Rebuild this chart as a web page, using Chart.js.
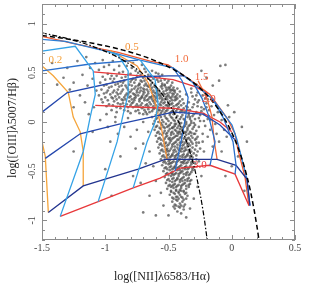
<!DOCTYPE html>
<html><head><meta charset="utf-8">
<script src="https://cdn.jsdelivr.net/npm/chart.js@4.4.0/dist/chart.umd.min.js"></script>
<style>html,body{margin:0;padding:0;background:#fff;}canvas{display:block;}</style>
</head><body>
<canvas id="c" width="309" height="295"></canvas>
<script>
// ---- axis ticks ----
const xTickValues = [-1.5, -1, -0.5, 0, 0.5];
const xTickLabels = ['-1.5', '-1', '-0.5', '0', '0.5'];
const yTickValues = [-1, -0.5, 0, 0.5, 1];
const yTickLabels = ['-1', '-0.5', '0', '0.5', '1'];

// ---- demarcation curves ----
const kewleyX = [-1.5,-1.3,-1.1,-0.9,-0.8,-0.7,-0.6,-0.5,-0.4,-0.3,-0.25,-0.2,-0.15,-0.1,-0.05,0,0.05,0.1,0.15,0.2,0.215];
const kewleyY = [0.880,0.845,0.801,0.745,0.710,0.669,0.620,0.561,0.489,0.398,0.343,0.280,0.206,0.120,0.017,-0.108,-0.262,-0.459,-0.716,-1.069,-1.2];
const kauffX = [-1.5,-1.3,-1.1,-0.9,-0.8,-0.7,-0.6,-0.5,-0.45,-0.4,-0.35,-0.3,-0.25,-0.22,-0.194];
const kauffY = [0.906,0.848,0.770,0.658,0.582,0.487,0.362,0.191,0.080,-0.056,-0.225,-0.443,-0.733,-0.959,-1.2];

// ---- model grid lines (x,y pairs) ----
const envRed   = [-1.50,0.87, -1.221,0.79, -0.906,0.71, -0.645,0.62, -0.503,0.58, -0.329,0.43, -0.172,0.28, -0.037,0.04, 0.026,-0.12, 0.049,-0.28, 0.105,-0.56, 0.136,-0.85];
const envBlue  = [-1.50,0.84, -1.316,0.82, -0.898,0.69, -0.724,0.63, -0.464,0.55, -0.306,0.40, -0.148,0.23, 0.002,-0.03, 0.041,-0.18, 0.065,-0.30, 0.120,-0.58, 0.144,-0.85];
const redU1    = [-1.095,0.51, -0.724,0.47, -0.464,0.43, -0.29,0.36, -0.19,0.29];
const redU2    = [-1.079,0.17, -0.724,0.15, -0.464,0.14, -0.227,0.09, -0.093,0.0, 0.0,-0.10];
const redU3    = [-1.356,-0.96, -1.056,-0.81, -0.779,-0.67, -0.566,-0.57, -0.408,-0.47, -0.172,-0.44, 0.026,-0.53, 0.136,-0.85];
const blueU2   = [-1.50,0.52, -1.119,0.59, -0.740,0.63];
const blueU3   = [-1.50,0.10, -1.300,0.30, -0.724,0.46, -0.50,0.47, -0.38,0.47];
const blueU4   = [-1.474,-0.37, -1.198,-0.12, -0.882,-0.02, -0.566,0.07, -0.464,0.10, -0.227,0.08, -0.093,-0.03, 0.026,-0.18];
const blueU5   = [-1.450,-0.92, -1.174,-0.65, -1.000,-0.58, -0.740,-0.48, -0.527,-0.38, -0.116,-0.38, 0.034,-0.44, 0.120,-0.58, 0.144,-0.85];
const blueZa   = [-1.50,0.72, -1.237,0.77, -1.095,0.52, -1.079,0.28, -1.119,0.05, -1.174,-0.30, -1.356,-0.96];
const blueZb   = [-0.985,0.72, -0.898,0.68, -0.819,0.52, -0.819,0.28, -0.858,0.08, -0.906,-0.20, -1.056,-0.81];
const blueZc   = [-0.724,0.63, -0.606,0.43, -0.582,0.18, -0.606,0.0, -0.669,-0.20, -0.779,-0.67];
const blueZd   = [-0.464,0.55, -0.393,0.42, -0.345,0.25, -0.361,0.08, -0.401,-0.20, -0.448,-0.50];
const blueZe   = [-0.306,0.40, -0.235,0.24, -0.187,0.08, -0.132,-0.20, -0.172,-0.44];
const blueZf   = [-0.148,0.23, -0.07,0.05, 0.010,-0.20, 0.034,-0.44, 0.026,-0.53];
const orgZ01   = [-1.50,-0.20, -1.474,-0.35, -1.450,-0.92];
const orgZ02   = [-1.50,0.57, -1.411,0.47, -1.292,0.30, -1.253,0.05, -1.198,-0.10, -1.174,-0.30, -1.174,-0.65];
const orgZ05   = [-0.961,0.73, -0.748,0.57, -0.661,0.40, -0.606,0.20, -0.558,-0.05, -0.511,-0.38];
const orgZ15   = [-0.266,0.42, -0.195,0.24, -0.156,0.05, -0.140,-0.18, -0.116,-0.38];

// ---- metallicity labels ----
const zLabels = ['0.2', '0.5', '1.0', '1.5', '2.0', '3.0'];
const zLabelX = [-1.395, -0.79, -0.397, -0.239, -0.180, -0.251];
const zLabelY = [0.625, 0.76, 0.64, 0.46, 0.235, -0.44];

// ---- galaxies (x,y pairs) ----
const bandPts = [
-0.93,0.53,-0.86,0.51,-0.79,0.55,-0.74,0.50,-0.69,0.54,-0.63,0.52,-0.58,0.49,-0.83,0.57,-0.71,0.58,-0.98,0.49,
-1.02,0.46,-0.96,0.44,-0.91,0.47,-0.87,0.45,-0.82,0.48,-0.78,0.44,-0.75,0.47,-0.70,0.45,-0.66,0.48,-0.62,0.44,-0.57,0.46,-0.53,0.43,-0.88,0.41,-0.72,0.42,
-1.04,0.40,-0.99,0.38,-0.94,0.41,-0.90,0.39,-0.85,0.42,-0.81,0.38,-0.77,0.40,-0.74,0.37,-0.71,0.41,-0.68,0.39,-0.64,0.42,-0.61,0.38,-0.58,0.41,-0.55,0.39,-0.51,0.40,-0.48,0.37,-0.79,0.43,-0.66,0.36,
-1.03,0.33,-0.97,0.35,-0.93,0.32,-0.89,0.36,-0.86,0.33,-0.83,0.35,-0.80,0.31,-0.77,0.34,-0.75,0.32,-0.72,0.35,-0.70,0.31,-0.67,0.33,-0.65,0.36,-0.62,0.32,-0.60,0.35,-0.57,0.31,-0.55,0.34,-0.52,0.32,-0.50,0.35,-0.47,0.33,-0.45,0.30,-0.91,0.30,-0.84,0.37,-0.69,0.37,
-1.05,0.27,-1.00,0.25,-0.96,0.28,-0.92,0.26,-0.88,0.29,-0.85,0.25,-0.82,0.28,-0.80,0.26,-0.78,0.29,-0.76,0.25,-0.74,0.27,-0.72,0.24,-0.70,0.28,-0.68,0.26,-0.66,0.29,-0.64,0.25,-0.62,0.27,-0.60,0.24,-0.58,0.28,-0.56,0.26,-0.54,0.29,-0.52,0.25,-0.50,0.27,-0.48,0.24,-0.46,0.28,-0.44,0.26,-0.87,0.23,-0.73,0.30,-0.59,0.30,
-1.02,0.20,-0.97,0.18,-0.93,0.21,-0.90,0.19,-0.86,0.22,-0.83,0.18,-0.81,0.21,-0.79,0.19,-0.77,0.22,-0.75,0.18,-0.73,0.21,-0.71,0.19,-0.69,0.22,-0.67,0.18,-0.65,0.20,-0.63,0.23,-0.61,0.19,-0.59,0.21,-0.57,0.18,-0.55,0.22,-0.53,0.20,-0.51,0.17,-0.49,0.21,-0.47,0.19,-0.45,0.22,-0.43,0.18,-0.41,0.21,-0.76,0.16,-0.62,0.16,-0.54,0.15,
-0.95,0.12,-0.88,0.14,-0.82,0.11,-0.78,0.15,-0.74,0.12,-0.71,0.14,-0.68,0.10,-0.66,0.13,-0.63,0.11,-0.61,0.14,-0.58,0.12,-0.56,0.09,-0.54,0.13,-0.52,0.11,-0.50,0.14,-0.48,0.10,-0.46,0.13,-0.44,0.11,-0.42,0.15,-0.40,0.12,-0.38,0.14,-0.70,0.08,-0.60,0.07,
-0.69,0.33,-0.66,0.23,-0.63,0.30,-0.61,0.26,-0.58,0.33,-0.57,0.24,-0.55,0.37,-0.53,0.28,-0.51,0.23,-0.49,0.30,-0.47,0.26,-0.46,0.35,-0.64,0.38,-0.67,0.27,-0.60,0.29,-0.56,0.20,-0.52,0.35,-0.50,0.19,-0.48,0.32,-0.44,0.23,-0.71,0.26,-0.74,0.34,-0.77,0.24,-0.81,0.30,-0.84,0.27,-0.86,0.19,-0.90,0.33,-0.94,0.24,-0.99,0.30
];
const bandPts2 = [
-0.95,0.47,-0.89,0.50,-0.84,0.46,-0.80,0.49,-0.76,0.52,-0.72,0.48,-0.68,0.51,-0.64,0.47,-0.60,0.50,-0.55,0.48,
-1.00,0.43,-0.93,0.44,-0.86,0.40,-0.80,0.41,-0.76,0.43,-0.73,0.39,-0.69,0.42,-0.66,0.44,-0.63,0.40,-0.59,0.43,-0.56,0.42,-0.53,0.38,-0.50,0.42,-0.47,0.40,
-1.01,0.37,-0.95,0.36,-0.92,0.38,-0.87,0.37,-0.82,0.33,-0.79,0.37,-0.76,0.36,-0.73,0.38,-0.70,0.34,-0.67,0.37,-0.63,0.35,-0.61,0.36,-0.59,0.33,-0.56,0.36,-0.53,0.37,-0.51,0.33,-0.49,0.35,-0.46,0.32,-0.43,0.34,
-1.01,0.29,-0.98,0.32,-0.94,0.30,-0.90,0.28,-0.87,0.31,-0.83,0.29,-0.79,0.33,-0.77,0.28,-0.75,0.30,-0.72,0.32,-0.69,0.30,-0.66,0.31,-0.64,0.33,-0.61,0.30,-0.59,0.32,-0.56,0.29,-0.54,0.31,-0.51,0.29,-0.49,0.33,-0.47,0.29,-0.45,0.32,-0.43,0.28,-0.41,0.31,
-1.03,0.23,-0.98,0.22,-0.95,0.25,-0.91,0.23,-0.89,0.25,-0.84,0.23,-0.81,0.25,-0.79,0.23,-0.76,0.27,-0.73,0.23,-0.71,0.25,-0.69,0.24,-0.67,0.22,-0.65,0.25,-0.63,0.26,-0.61,0.22,-0.59,0.26,-0.57,0.27,-0.55,0.24,-0.53,0.23,-0.51,0.26,-0.49,0.25,-0.47,0.22,-0.45,0.25,-0.43,0.24,-0.41,0.26,-0.39,0.23,
-0.99,0.16,-0.94,0.17,-0.91,0.15,-0.88,0.18,-0.85,0.16,-0.82,0.15,-0.80,0.17,-0.78,0.20,-0.74,0.16,-0.72,0.17,-0.70,0.15,-0.68,0.17,-0.66,0.16,-0.64,0.18,-0.62,0.21,-0.60,0.17,-0.58,0.15,-0.56,0.17,-0.54,0.19,-0.52,0.17,-0.50,0.16,-0.48,0.18,-0.46,0.16,-0.44,0.17,-0.42,0.19,-0.40,0.17,-0.38,0.19,-0.36,0.16,
-0.91,0.10,-0.85,0.12,-0.80,0.09,-0.76,0.11,-0.73,0.09,-0.69,0.12,-0.67,0.08,-0.65,0.10,-0.62,0.13,-0.59,0.10,-0.57,0.12,-0.55,0.11,-0.53,0.09,-0.51,0.12,-0.49,0.09,-0.47,0.11,-0.45,0.09,-0.43,0.13,-0.41,0.10,-0.39,0.11,-0.37,0.10,-0.35,0.12
];
const leftPts = [
-1.22,0.62,-1.15,0.66,-1.08,0.60,-1.02,0.63,-0.97,0.58,-1.12,0.55,-1.05,0.53,-1.18,0.48,-1.10,0.44,-1.01,0.56,-0.94,0.62,-0.89,0.57,-0.84,0.62,-0.78,0.60,-1.25,0.40,-1.14,0.37,-1.07,0.32,-1.20,0.27,-1.30,0.55,-1.33,0.45,-1.28,0.33,-1.16,0.20,-1.09,0.15,-1.13,0.08,-1.25,0.15,-1.38,0.38,-1.42,0.60,-0.99,0.08,-1.04,0.02,-0.92,0.05,
-1.00,-0.48,-0.70,-0.92,-0.76,-0.27,-0.80,-0.15,-0.96,-0.20,-0.92,0.00,-0.85,-0.05,-0.75,-0.08,-0.70,0.00,-0.88,-0.35,-0.78,-0.55,-1.10,-0.10,-0.68,-0.42,-0.65,-0.75,-1.25,-0.30,-0.95,-0.75,-0.60,-0.95,-0.72,-0.62,-0.90,-0.12,-0.82,0.04,-0.98,-0.05
];
const plumePts = [
-0.63,0.05,-0.60,0.03,-0.57,0.07,-0.55,0.02,-0.53,0.06,-0.51,0.03,-0.49,0.07,-0.47,0.04,-0.45,0.01,-0.43,0.06,-0.41,0.03,-0.39,0.07,-0.37,0.02,-0.35,0.05,-0.33,0.03,-0.31,0.06,-0.58,0.00,-0.46,0.08,
-0.62,-0.02,-0.59,-0.04,-0.56,-0.01,-0.54,-0.05,-0.52,-0.02,-0.50,-0.04,-0.48,-0.01,-0.46,-0.05,-0.44,-0.02,-0.42,-0.04,-0.40,-0.01,-0.38,-0.05,-0.36,-0.02,-0.34,-0.04,-0.32,-0.01,-0.29,-0.03,
-0.61,-0.08,-0.58,-0.10,-0.56,-0.07,-0.53,-0.09,-0.51,-0.11,-0.49,-0.07,-0.47,-0.10,-0.45,-0.08,-0.43,-0.11,-0.41,-0.07,-0.39,-0.09,-0.37,-0.11,-0.35,-0.08,-0.33,-0.10,-0.31,-0.07,-0.28,-0.09,
-0.60,-0.14,-0.57,-0.16,-0.55,-0.13,-0.52,-0.15,-0.50,-0.17,-0.48,-0.13,-0.46,-0.16,-0.44,-0.14,-0.42,-0.12,-0.40,-0.15,-0.38,-0.17,-0.36,-0.13,-0.34,-0.16,-0.32,-0.14,-0.30,-0.12,-0.27,-0.15,
-0.59,-0.20,-0.56,-0.22,-0.54,-0.19,-0.52,-0.21,-0.50,-0.23,-0.48,-0.19,-0.46,-0.22,-0.44,-0.20,-0.42,-0.18,-0.40,-0.21,-0.38,-0.23,-0.36,-0.19,-0.34,-0.22,-0.32,-0.20,-0.29,-0.18,-0.26,-0.21,
-0.58,-0.26,-0.55,-0.28,-0.53,-0.25,-0.51,-0.27,-0.49,-0.29,-0.47,-0.25,-0.45,-0.28,-0.43,-0.26,-0.41,-0.24,-0.39,-0.27,-0.37,-0.29,-0.35,-0.25,-0.33,-0.28,-0.31,-0.26,-0.28,-0.24,-0.25,-0.27,
-0.57,-0.32,-0.54,-0.34,-0.52,-0.31,-0.50,-0.33,-0.48,-0.35,-0.46,-0.31,-0.44,-0.34,-0.42,-0.32,-0.40,-0.30,-0.38,-0.33,-0.36,-0.35,-0.34,-0.31,-0.32,-0.34,-0.30,-0.32,-0.27,-0.30,
-0.56,-0.38,-0.53,-0.40,-0.51,-0.37,-0.49,-0.39,-0.47,-0.41,-0.45,-0.37,-0.43,-0.40,-0.41,-0.38,-0.39,-0.36,-0.37,-0.39,-0.35,-0.41,-0.33,-0.37,-0.31,-0.40,-0.28,-0.38,
-0.55,-0.44,-0.52,-0.46,-0.50,-0.43,-0.48,-0.45,-0.46,-0.47,-0.44,-0.43,-0.42,-0.46,-0.40,-0.44,-0.38,-0.42,-0.36,-0.45,-0.34,-0.47,-0.32,-0.43,-0.30,-0.46,
-0.54,-0.50,-0.51,-0.52,-0.49,-0.49,-0.47,-0.51,-0.45,-0.53,-0.43,-0.49,-0.41,-0.52,-0.39,-0.50,-0.37,-0.48,-0.35,-0.51,-0.33,-0.53,-0.31,-0.49,
-0.53,-0.56,-0.50,-0.58,-0.48,-0.55,-0.46,-0.57,-0.44,-0.59,-0.42,-0.55,-0.40,-0.58,-0.38,-0.56,-0.36,-0.54,-0.34,-0.57,-0.32,-0.59,
-0.52,-0.62,-0.49,-0.64,-0.47,-0.61,-0.45,-0.63,-0.43,-0.65,-0.41,-0.61,-0.39,-0.64,-0.37,-0.62,-0.35,-0.60,-0.33,-0.63,
-0.51,-0.68,-0.48,-0.70,-0.46,-0.67,-0.44,-0.69,-0.42,-0.71,-0.40,-0.67,-0.38,-0.70,-0.36,-0.68,-0.34,-0.66,
-0.49,-0.74,-0.47,-0.77,-0.45,-0.73,-0.43,-0.76,-0.41,-0.74,-0.39,-0.77,-0.37,-0.73,-0.35,-0.75,
-0.47,-0.81,-0.45,-0.84,-0.43,-0.80,-0.41,-0.83,-0.39,-0.81,-0.37,-0.84,
-0.45,-0.88,-0.43,-0.91,-0.41,-0.87,-0.40,-0.93,-0.38,-0.89,
-0.47,-0.06,-0.43,-0.14,-0.39,-0.20,-0.45,-0.25,-0.41,-0.29,-0.47,-0.33,-0.43,-0.37,-0.39,-0.41,-0.45,-0.45,-0.41,-0.49,-0.47,-0.53,-0.43,-0.57,-0.39,-0.60,-0.49,-0.16,-0.37,-0.26,-0.49,-0.42,-0.37,-0.46,-0.45,-0.02,-0.41,-0.10,-0.35,-0.34,-0.51,-0.29,-0.47,-0.65,-0.41,-0.69,-0.44,-0.79,
-0.66,-0.10,-0.65,-0.30,-0.62,-0.45,-0.60,-0.60,-0.56,-0.72,-0.54,-0.85,-0.26,-0.40,-0.24,-0.55,-0.27,-0.66,-0.30,-0.78,-0.33,-0.88,-0.50,-0.95,-0.36,-0.97,-0.70,-0.22,-0.23,-0.12,-0.22,-0.30
];
const plumePts2 = [
-0.61,0.01,-0.59,0.04,-0.56,0.05,-0.54,0.00,-0.52,0.04,-0.50,0.01,-0.48,0.05,-0.46,0.02,-0.44,0.04,-0.42,0.00,-0.40,0.05,-0.38,0.03,-0.36,0.00,-0.34,0.07,-0.32,0.01,
-0.60,-0.05,-0.57,-0.06,-0.55,-0.03,-0.53,-0.06,-0.51,-0.05,-0.49,-0.03,-0.47,-0.06,-0.45,-0.04,-0.43,-0.06,-0.41,-0.03,-0.39,-0.06,-0.37,-0.04,-0.35,-0.06,-0.33,-0.03,-0.30,-0.05,
-0.59,-0.11,-0.57,-0.12,-0.54,-0.11,-0.52,-0.12,-0.50,-0.09,-0.48,-0.11,-0.46,-0.12,-0.44,-0.09,-0.42,-0.10,-0.40,-0.12,-0.38,-0.10,-0.36,-0.10,-0.34,-0.12,-0.32,-0.11,-0.29,-0.12,
-0.58,-0.17,-0.56,-0.18,-0.53,-0.17,-0.51,-0.14,-0.49,-0.18,-0.47,-0.17,-0.45,-0.15,-0.43,-0.18,-0.41,-0.16,-0.39,-0.13,-0.37,-0.16,-0.35,-0.17,-0.33,-0.18,-0.31,-0.16,-0.28,-0.17,
-0.57,-0.23,-0.55,-0.24,-0.53,-0.22,-0.51,-0.24,-0.49,-0.21,-0.47,-0.23,-0.45,-0.21,-0.43,-0.23,-0.41,-0.21,-0.39,-0.24,-0.37,-0.21,-0.35,-0.23,-0.33,-0.24,-0.31,-0.22,-0.28,-0.21,
-0.56,-0.29,-0.54,-0.30,-0.52,-0.28,-0.50,-0.30,-0.48,-0.27,-0.46,-0.29,-0.44,-0.30,-0.42,-0.28,-0.40,-0.27,-0.38,-0.30,-0.36,-0.28,-0.34,-0.29,-0.32,-0.30,-0.29,-0.28,
-0.55,-0.35,-0.53,-0.36,-0.51,-0.34,-0.49,-0.36,-0.47,-0.34,-0.45,-0.35,-0.43,-0.33,-0.41,-0.35,-0.39,-0.34,-0.37,-0.36,-0.35,-0.33,-0.33,-0.35,-0.31,-0.36,-0.28,-0.34,
-0.54,-0.41,-0.52,-0.42,-0.50,-0.40,-0.48,-0.42,-0.46,-0.40,-0.44,-0.41,-0.42,-0.39,-0.40,-0.41,-0.38,-0.40,-0.36,-0.42,-0.34,-0.39,-0.32,-0.41,-0.29,-0.42,
-0.53,-0.47,-0.51,-0.48,-0.49,-0.46,-0.47,-0.48,-0.45,-0.46,-0.43,-0.47,-0.41,-0.45,-0.39,-0.47,-0.37,-0.46,-0.35,-0.48,-0.33,-0.45,-0.31,-0.47,
-0.52,-0.53,-0.50,-0.54,-0.48,-0.52,-0.46,-0.54,-0.44,-0.52,-0.42,-0.53,-0.40,-0.51,-0.38,-0.53,-0.36,-0.52,-0.34,-0.54,-0.32,-0.51,
-0.51,-0.59,-0.49,-0.60,-0.47,-0.58,-0.45,-0.60,-0.43,-0.58,-0.41,-0.59,-0.39,-0.57,-0.37,-0.59,-0.35,-0.58,-0.33,-0.60,
-0.50,-0.65,-0.48,-0.66,-0.46,-0.64,-0.44,-0.66,-0.42,-0.64,-0.40,-0.65,-0.38,-0.63,-0.36,-0.65,-0.34,-0.64,
-0.48,-0.71,-0.46,-0.72,-0.44,-0.70,-0.42,-0.72,-0.40,-0.70,-0.38,-0.71,-0.36,-0.72,
-0.46,-0.78,-0.44,-0.76,-0.42,-0.78,-0.40,-0.76,-0.38,-0.79,-0.36,-0.78,
-0.46,-0.86,-0.44,-0.85,-0.42,-0.86,-0.40,-0.85,-0.38,-0.86
];
const agnPts = [
-0.33,0.12,-0.30,0.18,-0.28,0.10,-0.26,0.22,-0.24,0.15,-0.22,0.08,-0.20,0.19,-0.18,0.12,-0.31,0.26,-0.27,0.30,-0.23,0.27,-0.19,0.03,-0.16,0.16,-0.14,0.07,-0.34,0.20,-0.29,0.03,-0.25,0.01,-0.21,-0.04,-0.17,-0.08,-0.13,-0.02,-0.11,0.10,-0.36,0.28,-0.32,0.34,-0.28,0.38,-0.24,0.33,-0.21,0.24,-0.15,0.22,-0.12,-0.12,-0.08,0.02,-0.06,-0.08,-0.10,-0.20,-0.04,-0.15,-0.02,0.05,-0.19,-0.15,-0.15,-0.25,-0.08,-0.30,-0.26,-0.05,-0.23,-0.20,-0.35,0.15,-0.30,0.08,-0.27,0.16,-0.22,0.13,-0.18,0.06,-0.25,0.07,-0.29,0.23,-0.33,0.05,
-0.31,0.15,-0.27,0.20,-0.24,0.11,-0.20,0.15,-0.28,0.27,-0.32,0.30,-0.26,0.04,-0.22,0.01,-0.17,0.02,-0.30,-0.01,-0.34,0.09,-0.19,0.23,
-0.24,0.52,-0.09,0.57,-0.05,0.58,-0.15,0.37,-0.03,0.17,0.02,0.10,0.08,-0.05,-0.10,0.42,0.05,-0.35,0.12,-0.20,0.00,-0.45,-0.05,-0.55,0.10,-0.70,-0.20,0.45
];

// ---- build chart ----
function pairs(flat) { const out = []; for (let i = 0; i < flat.length; i += 2) out.push({x: flat[i], y: flat[i + 1]}); return out; }
function zip(xs, ys) { return xs.map((v, i) => ({x: v, y: ys[i]})); }
function lineDs(data, color, width) {
  return {type: 'scatter', data, showLine: true, borderColor: color, borderWidth: width || 1.3, pointRadius: 0, fill: false, tension: 0};
}
const LB = '#34a2e6', MB = '#2b6fcc', DB = '#2447ad', NB = '#22348f';
const OR1 = '#f5a53b', OR2 = '#f3923a', OR3 = '#f06a3c', RED = '#e8383a';
const zColors = ['#f5a33b', '#f39136', '#f26d3d', '#f0603f', '#ea4a3d', '#e8383c'];

const datasets = [
  Object.assign(lineDs(zip(kewleyX, kewleyY), '#000', 1.5), {borderDash: [5, 3], cubicInterpolationMode: 'monotone'}),
  Object.assign(lineDs(zip(kauffX, kauffY), '#000', 1.2), {borderDash: [5, 2, 1.5, 2], cubicInterpolationMode: 'monotone'}),
  lineDs(pairs(blueZa), LB), lineDs(pairs(blueZb), LB), lineDs(pairs(blueZc), LB),
  lineDs(pairs(blueZd), MB), lineDs(pairs(blueZe), MB), lineDs(pairs(blueZf), MB),
  lineDs(pairs(blueU2), MB), lineDs(pairs(blueU3), DB), lineDs(pairs(blueU4), DB), lineDs(pairs(blueU5), NB),
  lineDs(pairs(envBlue), '#2c7fd6'),
  lineDs(pairs(orgZ01), OR1), lineDs(pairs(orgZ02), OR1), lineDs(pairs(orgZ05), OR2), lineDs(pairs(orgZ15), OR3),
  lineDs(pairs(redU1), RED), lineDs(pairs(redU2), RED), lineDs(pairs(redU3), RED),
  lineDs(pairs(envRed), '#f0582f'),
  {type: 'scatter', data: [].concat(pairs(bandPts), pairs(bandPts2), pairs(leftPts), pairs(plumePts), pairs(plumePts2), pairs(agnPts)),
   pointRadius: 1.35, pointBackgroundColor: 'rgba(80,80,80,0.75)', pointBorderWidth: 0, showLine: false}
];

const serif = '"Liberation Serif", "Times New Roman", serif';
const axesPlugin = {
  id: 'axesPlugin',
  afterDraw(chart) {
    const {ctx, chartArea: a, scales: {x, y}} = chart;
    ctx.save();
    ctx.font = '11px ' + serif; ctx.textAlign = 'center'; ctx.textBaseline = 'middle';
    zLabels.forEach((t, i) => { ctx.fillStyle = zColors[i]; ctx.fillText(t, x.getPixelForValue(zLabelX[i]), y.getPixelForValue(zLabelY[i])); });
    ctx.strokeStyle = '#8c8c8c'; ctx.lineWidth = 1;
    ctx.strokeRect(a.left + 0.5, a.top + 0.5, a.right - a.left - 1, a.bottom - a.top - 1);
    ctx.beginPath();
    for (let i = 0; i <= 20; i++) {
      const px = Math.round(x.getPixelForValue(-1.5 + i * 0.1)) + 0.5;
      const L = (i % 5 === 0) ? 5 : 3;
      ctx.moveTo(px, a.bottom); ctx.lineTo(px, a.bottom - L);
      ctx.moveTo(px, a.top); ctx.lineTo(px, a.top + L);
    }
    for (let i = 0; i <= 24; i++) {
      const py = Math.round(y.getPixelForValue(-1.2 + i * 0.1)) + 0.5;
      const L = ((i - 2) % 5 === 0) ? 5 : 3;
      ctx.moveTo(a.left, py); ctx.lineTo(a.left + L, py);
      ctx.moveTo(a.right, py); ctx.lineTo(a.right - L, py);
    }
    ctx.stroke();
    ctx.fillStyle = '#444'; ctx.font = '10px ' + serif;
    ctx.textAlign = 'center'; ctx.textBaseline = 'middle';
    xTickValues.forEach((v, i) => ctx.fillText(xTickLabels[i], x.getPixelForValue(v), a.bottom + 8));
    yTickValues.forEach((v, i) => {
      ctx.save(); ctx.translate(a.left - 10, y.getPixelForValue(v)); ctx.rotate(-Math.PI / 2);
      ctx.fillText(yTickLabels[i], 0, 0); ctx.restore();
    });
    ctx.fillStyle = '#222'; ctx.font = '12px ' + serif;
    ctx.fillText('log([NII]\u03bb6583/H\u03b1)', 162, 277);
    ctx.save(); ctx.translate(13, 128); ctx.rotate(-Math.PI / 2);
    ctx.fillText('log([OIII]\u03bb5007/H\u03b2)', 0, 0); ctx.restore();
    ctx.restore();
  }
};

new Chart(document.getElementById('c'), {
  type: 'scatter',
  data: {datasets},
  options: {
    responsive: false, animation: false, devicePixelRatio: 1,
    layout: {padding: {left: 42, right: 14, top: 0, bottom: 55}},
    plugins: {legend: {display: false}, tooltip: {enabled: false}},
    scales: {
      x: {type: 'linear', min: -1.5, max: 0.5, display: false},
      y: {type: 'linear', min: -1.2, max: 1.2, display: false}
    }
  },
  plugins: [axesPlugin]
});
</script>
</body></html>
